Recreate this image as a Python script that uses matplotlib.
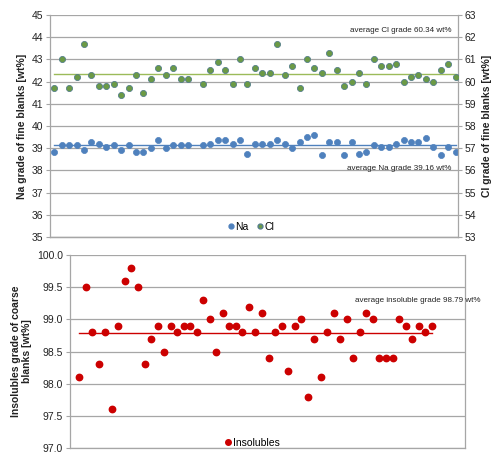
import numpy as np
import matplotlib
matplotlib.use("Agg")
import matplotlib.pyplot as plt
from matplotlib.lines import Line2D

plt.rcParams['font.family'] = ['Liberation Sans', 'DejaVu Sans']

# ---------------- data ----------------
na_grade = [38.85, 39.14, 39.14, 39.14, 38.90, 39.29, 39.20, 39.06, 39.14, 38.90,
            39.14, 38.85, 38.85, 39.00, 39.36, 39.00, 39.14, 39.14, 39.14, np.nan,
            39.14, 39.20, 39.36, 39.36, 39.20, 39.36, 38.76, 39.20, 39.20, 39.20,
            39.36, 39.20, 39.00, 39.29, 39.50, 39.58, 38.70, 39.29, 39.29, 38.70,
            39.29, 38.76, 38.83, 39.14, 39.06, 39.06, 39.20, 39.36, 39.29, 39.29,
            39.44, 39.06, 38.70, 39.06, 38.83]
cl_grade = [59.7, 61.0, 59.7, 60.2, 61.7, 60.3, 59.8, 59.8, 59.9, 59.4,
            59.7, 60.3, 59.5, 60.1, 60.6, 60.3, 60.6, 60.1, 60.1, np.nan,
            59.9, 60.5, 60.9, 60.5, 59.9, 61.0, 59.9, 60.6, 60.4, 60.4,
            61.7, 60.3, 60.7, 59.7, 61.0, 60.6, 60.4, 61.3, 60.5, 59.8,
            60.0, 60.4, 59.9, 61.0, 60.7, 60.7, 60.8, 60.0, 60.2, 60.3,
            60.1, 60.0, 60.5, 60.8, 60.2]
insolubles = [98.1, 99.5, 98.8, 98.3, 98.8, 97.6, 98.9, 99.6, 99.8, 99.5,
              98.3, 98.7, 98.9, 98.5, 98.9, 98.8, 98.9, 98.9, 98.8, 99.3,
              99.0, 98.5, 99.1, 98.9, 98.9, 98.8, 99.2, 98.8, 99.1, 98.4,
              98.8, 98.9, 98.2, 98.9, 99.0, 97.8, 98.7, 98.1, 98.8, 99.1,
              98.7, 99.0, 98.4, 98.8, 99.1, 99.0, 98.4, 98.4, 98.4, 99.0,
              98.9, 98.7, 98.9, 98.8, 98.9]
avg_na = 39.16
avg_cl = 60.34
avg_ins = 98.79
na_ticks = [35, 36, 37, 38, 39, 40, 41, 42, 43, 44, 45]
cl_ticks = [53, 54, 55, 56, 57, 58, 59, 60, 61, 62, 63]
ins_ticks = [97.0, 97.5, 98.0, 98.5, 99.0, 99.5, 100.0]

# ---------------- styling ----------------
GRID = '#a6a6a6'
NA_C = '#4f81bd'
CL_C = '#6b9a45'
CL_E = '#557f8a'
CL_LINE = '#9bbb59'
RED = '#cc0000'
TXT = '#222222'

fig = plt.figure(figsize=(5.0, 4.54), dpi=100)

def style_axis(ax):
    for s in ['top']:
        ax.spines[s].set_visible(False)
    for s in ['left', 'right', 'bottom']:
        ax.spines[s].set_color(GRID)
        ax.spines[s].set_linewidth(0.9)
    ax.tick_params(axis='y', colors=GRID, labelcolor=TXT, labelsize=7.5,
                   length=3, width=0.8, direction='out', pad=2)
    ax.tick_params(axis='x', bottom=False, labelbottom=False)

# ---------------- top chart ----------------
ax1 = fig.add_axes([0.10, 0.478, 0.816, 0.489])
x1 = np.arange(len(na_grade))
ax1.set_xlim(-0.58, 54.33)
ax1.set_ylim(35, 45)
ax1.set_yticks(na_ticks)
ax1.yaxis.grid(True, color=GRID, linewidth=0.9)
ax1.set_axisbelow(True)
style_axis(ax1)
ax1.spines['right'].set_visible(False)
ax1.set_ylabel('Na grade of fine blanks [wt%]', fontsize=7.5, fontweight='bold',
               color=TXT, labelpad=3)

ax2 = ax1.twinx()
ax2.set_xlim(-0.58, 54.33)
ax2.set_ylim(53, 63)
ax2.set_yticks(cl_ticks)
style_axis(ax2)
ax2.spines['left'].set_visible(False)
ax2.set_ylabel('Cl grade of fine blanks [wt%]', fontsize=7.5, fontweight='bold',
               color=TXT, labelpad=4)

ax1.plot([x1[0], x1[-1]], [avg_na, avg_na], color=NA_C, lw=1.0, zorder=2)
ax2.plot([x1[0], x1[-1]], [avg_cl, avg_cl], color=CL_LINE, lw=1.0, zorder=2)
ax1.plot(x1, na_grade, 'o', color=NA_C, ms=4.4, mec=NA_C, mew=0.5, zorder=3)
ax2.plot(x1, cl_grade, 'o', color=CL_C, ms=4.4, mec=CL_E, mew=0.6, zorder=3)

ax2.text(53.5, 62.32, 'average Cl grade 60.34 wt%', fontsize=5.8, ha='right',
         va='center', color=TXT)
ax1.text(53.5, 38.1, 'average Na grade 39.16 wt%', fontsize=5.8, ha='right',
         va='center', color=TXT)

h_na = Line2D([], [], ls='none', marker='o', color=NA_C, ms=3.5)
h_cl = Line2D([], [], ls='none', marker='o', color=CL_C, mec=CL_E, ms=3.5)
fig.legend([h_na, h_cl], ['Na', 'Cl'], loc='center', bbox_to_anchor=(0.502, 0.50),
           ncol=2, frameon=False, fontsize=7.5, handlelength=0.6,
           handletextpad=0.1, columnspacing=0.8, borderpad=0.1)

# ---------------- bottom chart ----------------
ax3 = fig.add_axes([0.14, 0.0132, 0.79, 0.425])
x3 = np.arange(1, len(insolubles) + 1)
ax3.set_xlim(-0.42, 60.1)
ax3.set_ylim(97.0, 100.0)
ax3.set_yticks(ins_ticks)
ax3.set_yticklabels([f'{t:.1f}' for t in ins_ticks])
ax3.yaxis.grid(True, color=GRID, linewidth=0.9)
ax3.set_axisbelow(True)
style_axis(ax3)
ax3.tick_params(axis='y', right=False)
ax3.set_ylabel('Insolubles grade of coarse\nblanks [wt%]', fontsize=7.5,
               fontweight='bold', color=TXT, labelpad=4, linespacing=1.0)

ax3.plot([x3[0], x3[-1]], [avg_ins, avg_ins], color=RED, lw=1.0, zorder=2)
ax3.plot(x3, insolubles, 'o', color=RED, ms=4.6, mec=RED, zorder=3)
ax3.text(62.4, 99.29, 'average insoluble grade 98.79 wt%', fontsize=5.8,
         ha='right', va='center', color=TXT, clip_on=False)

h_ins = Line2D([], [], ls='none', marker='o', color=RED, ms=4.0)
fig.legend([h_ins], ['Insolubles'], loc='center', bbox_to_anchor=(0.504, 0.024),
           frameon=False, fontsize=7.5, handlelength=0.6, handletextpad=0.2,
           borderpad=0.1)

fig.savefig('out.png', dpi=100)
